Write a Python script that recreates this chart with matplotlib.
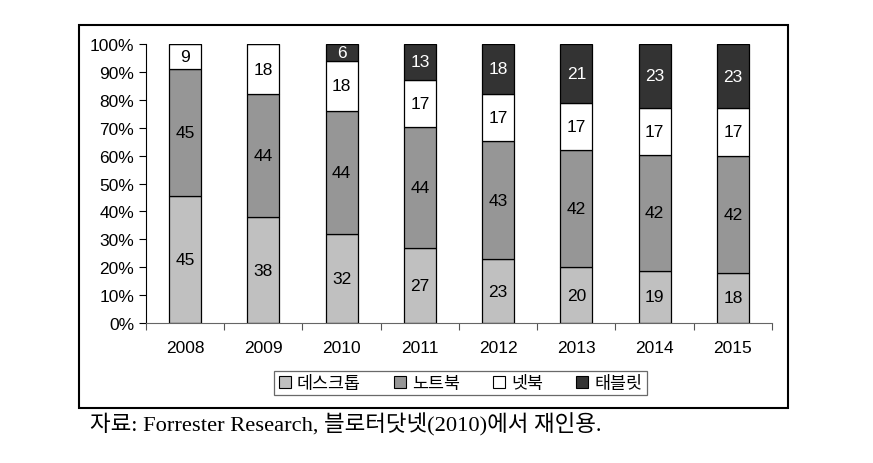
import matplotlib
matplotlib.use("Agg")
import matplotlib.pyplot as plt
from matplotlib.patches import Rectangle, Patch
import numpy as np

years = ['2008', '2009', '2010', '2011', '2012', '2013', '2014', '2015']
names = ['데스크톱', '노트북', '넷북', '태블릿']
desktop = [45, 38, 32, 27, 23, 20, 19, 18]
notebook = [45, 44, 44, 44, 43, 42, 42, 42]
netbook = [9, 18, 18, 17, 17, 17, 17, 17]
tablet = [0, 0, 6, 13, 18, 21, 23, 23]
colors = ['#c0c0c0', '#969696', '#ffffff', '#333333']
txtcol = ['black', 'black', 'black', 'white']

plt.rcParams['font.family'] = ['Liberation Sans', 'Noto Sans CJK KR']

fig = plt.figure(figsize=(8.73, 4.64), dpi=100)
ax = fig.add_axes([0.1672, 0.3017, 0.8843 - 0.1672, 0.903 - 0.3017])

data = np.array([desktop, notebook, netbook, tablet], dtype=float)
tot = data.sum(axis=0)
share = data / tot
x = np.arange(len(years))
bottom = np.zeros(len(years))
for k in range(4):
    ax.bar(x, share[k], 0.41, bottom=bottom, color=colors[k], edgecolor='black', linewidth=0.9)
    for i in range(len(years)):
        if data[k][i] > 0:
            ax.text(x[i], bottom[i] + share[k][i] / 2, str(int(data[k][i])), ha='center', va='center',
                    fontsize=12.5, color=txtcol[k])
    bottom += share[k]

ax.set_xlim(-0.5, len(years) - 0.5)
ax.set_ylim(0, 1)
ax.set_yticks(np.arange(0, 1.01, 0.1))
ax.set_yticklabels([str(v) + '%' for v in range(0, 101, 10)], fontsize=12.5)
ax.set_xticks(np.arange(-0.5, len(years), 1.0))
ax.set_xticklabels([])
ax.set_xticks(x, minor=True)
ax.set_xticklabels(years, minor=True, fontsize=12.5)
ax.tick_params(axis='x', which='minor', length=0, pad=12)
ax.tick_params(axis='x', which='major', length=5, color='#555555')
ax.tick_params(axis='y', length=5)
ax.spines['top'].set_visible(False)
ax.spines['right'].set_visible(False)
ax.spines['bottom'].set_color('#666666')

handles = [Patch(facecolor=colors[k], edgecolor='black', linewidth=0.8) for k in range(4)]
leg = fig.legend(handles, names, loc='center', bbox_to_anchor=(0.5275, 0.1724), ncol=4, fontsize=12.5,
                 frameon=True, fancybox=False, handlelength=0.7, handleheight=0.7, handletextpad=0.35,
                 columnspacing=1.9, borderpad=0.25)
leg.get_frame().set_edgecolor('#444444')
leg.get_frame().set_linewidth(0.9)

fig.patches.append(Rectangle((0.0905, 0.1185), 0.9026 - 0.0905, 0.944 - 0.1185, transform=fig.transFigure,
                             fill=False, edgecolor='black', linewidth=1.5))

fig.text(0.103, 0.084, '자료: Forrester Research, 블로터닷넷(2010)에서 재인용.', fontsize=16.2, va='center',
         family=['Liberation Serif', 'Noto Sans CJK KR'])

fig.savefig('out.png', dpi=100)
